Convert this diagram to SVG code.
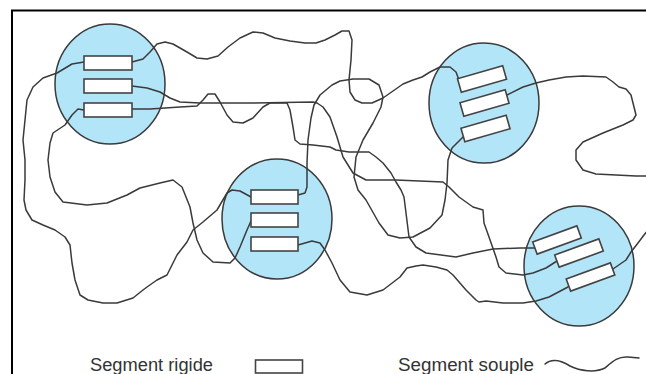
<svg xmlns="http://www.w3.org/2000/svg" width="646" height="374" viewBox="0 0 646 374">
<style>
.cl{fill:#b3e5f8;stroke:#3a3a3a;stroke-width:1.5}
.rg{fill:#ffffff;stroke:#444;stroke-width:1.6}
.ch{fill:none;stroke:#3a3a3a;stroke-width:1.5;stroke-linejoin:round;stroke-linecap:round}
.lb{font-family:"Liberation Sans",Arial,sans-serif;font-size:17.5px;fill:#333}
</style>
<rect x="0" y="0" width="646" height="374" fill="#fff"/>
<path d="M12,374 V10.5 H646" fill="none" stroke="#000" stroke-width="2"/>
<g id="cluster-top-left"><ellipse class="cl" cx="110" cy="84" rx="55" ry="60"/></g>
<g id="cluster-top-right"><ellipse class="cl" cx="484" cy="103" rx="55" ry="60"/></g>
<g id="cluster-middle"><ellipse class="cl" cx="277" cy="219" rx="55" ry="60"/></g>
<g id="cluster-bottom-right"><ellipse class="cl" cx="579" cy="266" rx="55" ry="60"/></g>
<g id="connectors">
<polyline class="ch" points="132,62 143,59 150,52 157,44 165,42 173,44 187,52 197,58 207,59 218,56 228,47 240,38 253,32 263,33 275,38 290,41 305,43 316,43 325,40 335,35 342,31 349,31 352,40 351,60 349,80 350,92 355,100 362,103 372,103 383,98 393,91 403,84 413,80 422,77 430,72 440,67 450,67 456,72 459,80"/>
<polyline class="ch" points="298,195 305,193 307,187 307,163 308,140 311,118 314,105 320,95 332,85 340,81 353,79 369,79 379,85 383,97 381,107 373,123 363,140 356,157 354,177 358,190 366,200 379,223 388,235 400,238 413,237 430,228 442,215 445,200 447,183 448,160 452,148 463,137"/>
<polyline class="ch" points="84,62 72,64 57,73 43,78 33,87 27,100 25,120 23,140 25,160 25,180 24,200 26,210 32,220 43,225 55,230 65,237 70,245 72,263 75,280 80,295 88,300 103,303 117,303 133,298 143,290 147,287 157,280 167,275 173,263 177,255 187,242 193,230 203,222 217,210 227,193 232,190 240,191 251,197"/>
<polyline class="ch" points="84,110 78,109 72,115 65,125 53,133 50,143 48,160 50,177 55,192 63,202 87,205 107,203 127,195 140,188 160,183 173,180 182,187 190,207 193,223 197,240 203,253 213,262 230,263 235,258 240,247 247,230 251,221"/>
<polyline class="ch" points="298,245 312,241 320,243 325,250 332,263 340,280 350,292 367,295 383,290 400,277 407,268 416,266 423,265 436,267 447,270 453,275 466,290 476,300 479,302 486,301 503,303 523,303 536,301 549,297 568,287"/>
<polyline class="ch" points="132,109 150,109 180,107 197,106 203,100 208,94 215,94 220,102 227,115 233,122 243,123 253,118 263,107 270,103 287,103 290,110 293,127 295,140 300,144 313,145 330,147 336,150 349,152 369,152 376,157 383,163 391,173 396,182 401,190 404,197 406,213 409,237 416,247 426,253 456,257 473,253 493,249 520,248 535,248"/>
<polyline class="ch" points="132,86 147,88 160,92 170,98 180,102 200,103 250,103 313,102 317,103 323,107 330,117 337,137 343,157 353,173 366,180 396,180 443,182 449,187 459,197 473,207 483,210 484,223 489,237 496,257 499,267 506,273 523,275 533,273 546,268 557,261"/>
<polyline class="ch" points="507,95 523,87 536,83 549,80 566,77 583,76 606,77 613,82 619,87 626,89 631,95 634,107 636,115 633,120 623,125 603,133 583,142 576,150 576,160 583,170 596,174 616,175 636,176 648,176"/>
<polyline class="ch" points="613,269 626,260 631,252 638,243 644,235 648,230"/>
</g>
<g id="rigid-segments">
<rect class="rg" x="84" y="56" width="48" height="14"/>
<rect class="rg" x="84" y="79" width="48" height="14"/>
<rect class="rg" x="84" y="103" width="48" height="14"/>
<rect class="rg" x="251" y="190" width="47" height="14"/>
<rect class="rg" x="251" y="213" width="47" height="14"/>
<rect class="rg" x="251" y="237" width="47" height="14"/>
<rect class="rg" x="-23.5" y="-7" width="47" height="14" transform="translate(482,79) rotate(-16)"/>
<rect class="rg" x="-23.5" y="-7" width="47" height="14" transform="translate(484.5,103) rotate(-16)"/>
<rect class="rg" x="-23.5" y="-7" width="47" height="14" transform="translate(485.5,128.5) rotate(-16)"/>
<rect class="rg" x="-23.5" y="-6.5" width="47" height="13" transform="translate(557,240) rotate(-20)"/>
<rect class="rg" x="-23.5" y="-6.5" width="47" height="13" transform="translate(579,253) rotate(-20)"/>
<rect class="rg" x="-23.5" y="-6.5" width="47" height="13" transform="translate(590.5,277) rotate(-20)"/>
</g>
<g id="legend">
<text class="lb" x="90" y="370.5" textLength="123" lengthAdjust="spacingAndGlyphs">Segment rigide</text>
<rect class="rg" x="255.5" y="360" width="47" height="13"/>
<text class="lb" x="398" y="370.5" textLength="136" lengthAdjust="spacingAndGlyphs">Segment souple</text>
<path class="ch" d="M545,364 C552,358 560,360 570,366 C580,371 595,373 605,368 C612,362 618,356 628,357 L639,358"/>
</g>
</svg>
